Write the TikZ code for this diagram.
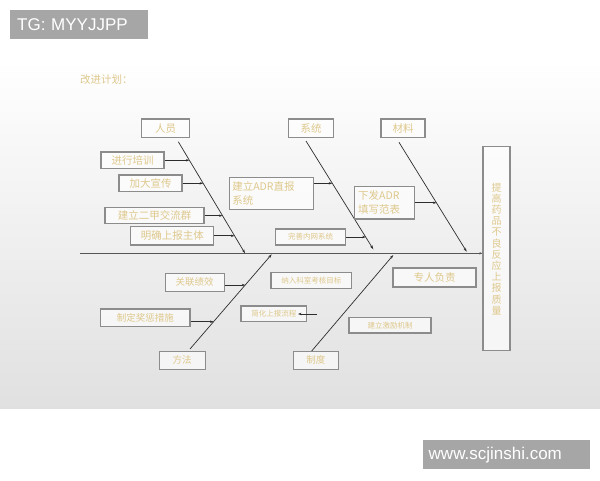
\documentclass[tikz,border=0pt]{standalone}
\usepackage{fontspec}
\setmainfont{Noto Sans CJK SC}
\newfontfamily\wmfont{Liberation Sans}
\usetikzlibrary{arrows.meta}
\definecolor{gold}{RGB}{222,200,140}
\definecolor{bxline}{RGB}{140,140,140}
\definecolor{ln}{RGB}{45,45,45}
\definecolor{wm}{RGB}{166,166,166}
\begin{document}
\begin{tikzpicture}[x=1pt,y=-1pt,
  bx/.style={draw=bxline,line width=1.1pt,fill=white,fill opacity=0.65,text opacity=1,
    text=gold,inner sep=1pt,font=\fontsize{10.5}{13}\selectfont},
  smallbx/.style={bx,font=\fontsize{7.5}{9}\selectfont},
  bone/.style={draw=ln,line width=0.7pt,-{Stealth[length=4pt,width=2.6pt]}},
  twig/.style={draw=ln,line width=0.8pt,-{Stealth[length=3.5pt,width=2.4pt]}},
  wmbox/.style={fill=wm,text=white,inner sep=0pt,font=\wmfont\fontsize{17}{19}\selectfont}
]
\useasboundingbox (0,0) rectangle (600,480);
% background
\shade[top color=white,bottom color=gray!24] (0,60) rectangle (600,408);
% watermarks
\node[wmbox,minimum width=138,minimum height=29,anchor=north west,text width=128,align=left] (wm1) at (10,10) {\hspace*{2pt}TG: MYYJJPP};
\node[wmbox,minimum width=167,minimum height=29,anchor=north west,text width=160,align=left] (wm2) at (423,440) {\hspace*{2pt}www.scjinshi.com};
% title
\node[anchor=west,text=gold,inner sep=0pt,font=\fontsize{10.5}{12}\selectfont] (title) at (80,80) {改进计划：};

% effect box
\node[bx,minimum width=27,minimum height=204,text width=12,align=center,
  font=\fontsize{10}{11.2}\selectfont] (eff) at (496.5,248.7)
  {提\\高\\药\\品\\不\\良\\反\\应\\上\\报\\质\\量};
% spine
\coordinate (sp0) at (80,253.3);
\draw[draw=ln!80,line width=1pt,-{Stealth[length=3pt,width=2.4pt]}] (sp0) -- (sp0 -| eff.west);

% category boxes
\node[bx,minimum width=48,minimum height=18.5] (ry) at (165.5,128.25) {人员};
\node[bx,minimum width=45,minimum height=18.5] (xt) at (311,128.25) {系统};
\node[bx,minimum width=44,minimum height=18.5] (cl) at (403,128.25) {材料};
\node[bx,minimum width=45.7,minimum height=18.3,font=\fontsize{9.5}{11}\selectfont] (ff) at (182.2,360.2) {方法};
\node[bx,minimum width=45,minimum height=18.3,font=\fontsize{9.5}{11}\selectfont] (zd) at (315.8,360.2) {制度};

% bone coordinates
\coordinate (ryA) at (178.3,141.7); \coordinate (ryB) at (245,253.3);
\coordinate (xtA) at (306,141);     \coordinate (xtB) at (373.3,249.3);
\coordinate (clA) at (399,142.3);   \coordinate (clB) at (466.7,251.7);
\coordinate (ffA) at (190,349);     \coordinate (ffB) at (271.7,254.3);
\coordinate (zdA) at (311.7,351);   \coordinate (zdB) at (393.3,255);
\draw[bone] (ryA) -- (ryB);
\draw[bone] (xtA) -- (xtB);
\draw[bone] (clA) -- (clB);
\draw[bone] (ffA) -- (ffB);
\draw[bone] (zdA) -- (zdB);

% 人员 causes
\node[bx,minimum width=63,minimum height=16.5] (c1) at (132.5,160.25) {进行培训};
\node[bx,minimum width=63,minimum height=16.7] (c2) at (150.5,183.3) {加大宣传};
\node[bx,minimum width=99,minimum height=16] (c3) at (154.5,215.7) {建立二甲交流群};
\node[bx,minimum width=83,minimum height=18.3] (c4) at (172.3,235.8) {明确上报主体};
\coordinate (p1) at (189.4,160.25);
\coordinate (p2) at (203.2,183.3);
\coordinate (p3) at (222.5,215.7);
\coordinate (p4) at (234.5,235.8);
\draw[twig] (c1.east) -- (p1);
\draw[twig] (c2.east) -- (p2);
\draw[twig] (c3.east) -- (p3);
\draw[twig] (c4.east) -- (p4);

% 系统 causes
\node[bx,minimum width=84,minimum height=31.7,text width=78,align=left,
  font=\fontsize{10.5}{14}\selectfont] (c5) at (271.3,193.2) {建立ADR直报\\系统};
\node[smallbx,minimum width=70,minimum height=16] (c6) at (310.7,237) {完善内网系统};
\coordinate (p5) at (332.3,183.3);
\coordinate (p6) at (365.7,237);
\draw[twig] (c5.east |- p5) -- (p5);
\draw[twig] (c6.east) -- (p6);

% 材料 causes
\node[bx,minimum width=59.7,minimum height=32.3,text width=52,align=left,
  font=\fontsize{10.5}{14}\selectfont] (c7) at (384.2,202.8) {下发ADR\\填写范表};
\coordinate (p7) at (436.4,202.8);
\draw[twig] (c7.east) -- (p7);

% 方法 causes
\node[bx,minimum width=59.3,minimum height=17.7,font=\fontsize{9.5}{11}\selectfont] (c8) at (194.7,282.2) {关联绩效};
\node[bx,minimum width=89.3,minimum height=17.7,font=\fontsize{9.5}{11}\selectfont] (c9) at (145.3,317.8) {制定奖惩措施};
\coordinate (p8) at (245.2,285);
\coordinate (p9) at (213.6,321.7);
\draw[twig] (c8.east |- p8) -- (p8);
\draw[twig] (c9.east |- p9) -- (p9);

% middle / 制度 causes
\node[smallbx,minimum width=80.7,minimum height=15.6] (c10) at (311.3,280.5) {纳入科室考核目标};
\node[smallbx,minimum width=65.7,minimum height=15.7] (c11) at (273.8,313.8) {简化上报流程};
\coordinate (q11) at (317,314);
\coordinate (p11) at (298,314);
\draw[twig] (q11) -- (p11);
\node[bx,minimum width=83,minimum height=19] (c12) at (434.5,277.5) {专人负责};
\node[smallbx,minimum width=82,minimum height=15.3] (c13) at (390,325.3) {建立激励机制};
\end{tikzpicture}
\end{document}
